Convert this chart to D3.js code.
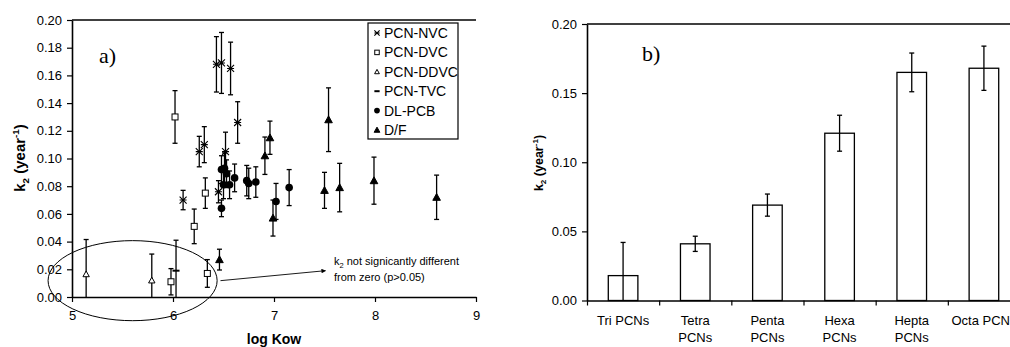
<!DOCTYPE html>
<html>
<head>
<meta charset="utf-8">
<script src="https://cdn.jsdelivr.net/npm/d3@7"></script>
<style>
  body { margin:0; background:#fff; overflow:hidden; }
  svg { display:block; font-family: Arial, "Liberation Sans", sans-serif; }
</style>
</head>
<body>
<svg id="chart" width="1010" height="347"></svg>
<script>
// ---- panel a) data : log Kow, k2, error
var nvcX = [6.10, 6.26, 6.31, 6.43, 6.45, 6.48, 6.52, 6.57, 6.64]
var nvcY = [0.070, 0.105, 0.110, 0.168, 0.076, 0.169, 0.105, 0.165, 0.126]
var nvcE = [0.007, 0.011, 0.013, 0.020, 0.008, 0.022, 0.014, 0.019, 0.015]

var dvcX = [5.98, 6.02, 6.21, 6.32, 6.34]
var dvcY = [0.011, 0.130, 0.051, 0.075, 0.017]
var dvcE = [0.0095, 0.019, 0.0125, 0.011, 0.010]

var ddvcX = [5.14, 5.79]
var ddvcY = [0.0165, 0.012]
var ddvcE = [0.025, 0.019]

var tvcX = [6.03]
var tvcY = [0.019]
var tvcE = [0.022]

var pcbX = [6.48, 6.51, 6.53, 6.50, 6.56, 6.61, 6.73, 6.75, 6.82, 6.48, 7.02, 7.15]
var pcbY = [0.092, 0.093, 0.089, 0.081, 0.081, 0.086, 0.084, 0.082, 0.083, 0.064, 0.069, 0.079]
var pcbE = [0.010, 0.011, 0.010, 0.010, 0.010, 0.010, 0.011, 0.011, 0.011, 0.006, 0.013, 0.013]

var dfX = [6.46, 6.91, 6.96, 6.99, 7.50, 7.54, 7.65, 7.99, 8.61]
var dfY = [0.027, 0.102, 0.115, 0.057, 0.077, 0.128, 0.079, 0.084, 0.072]
var dfE = [0.0075, 0.0135, 0.012, 0.013, 0.013, 0.023, 0.0175, 0.017, 0.016]

var seriesNames = ["PCN-NVC", "PCN-DVC", "PCN-DDVC", "PCN-TVC", "DL-PCB", "D/F"]
var xTicksA = [5, 6, 7, 8, 9]
var yTicksA = [0, 0.02, 0.04, 0.06, 0.08, 0.10, 0.12, 0.14, 0.16, 0.18, 0.20]

// ---- panel b) data
var groups = ["Tri PCNs", "Tetra PCNs", "Penta PCNs", "Hexa PCNs", "Hepta PCNs", "Octa PCNs"]
var groupLines = [["Tri PCNs"], ["Tetra", "PCNs"], ["Penta", "PCNs"], ["Hexa", "PCNs"], ["Hepta", "PCNs"], ["Octa PCNs"]]
var meanK2 = [0.018, 0.041, 0.069, 0.121, 0.165, 0.168]
var errK2 = [0.024, 0.0055, 0.008, 0.013, 0.014, 0.016]
var yTicksB = [0, 0.05, 0.10, 0.15, 0.20]

var svg = d3.select('#chart')
var fmt = d3.format('.2f')

function zip(xs, ys, es){
  return xs.map(function(x, i){ return {x:x, y:ys[i], e:es[i]} })
}
var series = [
  {name:seriesNames[0], sym:'cross', pts:zip(nvcX, nvcY, nvcE)},
  {name:seriesNames[1], sym:'square', pts:zip(dvcX, dvcY, dvcE)},
  {name:seriesNames[2], sym:'tri', pts:zip(ddvcX, ddvcY, ddvcE)},
  {name:seriesNames[3], sym:'dash', pts:zip(tvcX, tvcY, tvcE)},
  {name:seriesNames[4], sym:'circle', pts:zip(pcbX, pcbY, pcbE)},
  {name:seriesNames[5], sym:'ftri', pts:zip(dfX, dfY, dfE)}
]

function drawSymbol(g, sym, cx, cy, s){
  s = s || 1
  if (sym == 'cross'){
    var r = 3.5*s
    g.append('path').attr('d','M'+(cx-r)+','+(cy-r)+'L'+(cx+r)+','+(cy+r)+'M'+(cx-r)+','+(cy+r)+'L'+(cx+r)+','+(cy-r)+'M'+(cx-r)+','+cy+'L'+(cx+r)+','+cy)
      .attr('stroke','#000').attr('stroke-width',1.1).attr('fill','none')
  } else if (sym == 'square'){
    var h = 3*s
    g.append('rect').attr('x',cx-h).attr('y',cy-h).attr('width',2*h).attr('height',2*h)
      .attr('fill','#fff').attr('stroke','#000').attr('stroke-width',1)
  } else if (sym == 'tri' || sym == 'ftri'){
    var t = (sym == 'tri' ? 3.2 : 3.8)*s
    g.append('path').attr('d','M'+cx+','+(cy-t)+'L'+(cx+t)+','+(cy+t*0.8)+'L'+(cx-t)+','+(cy+t*0.8)+'Z')
      .attr('fill', sym == 'tri' ? '#fff' : '#000').attr('stroke','#000').attr('stroke-width',1)
  } else if (sym == 'dash'){
    var w = 3.5*s
    g.append('line').attr('x1',cx-w).attr('x2',cx+w).attr('y1',cy).attr('y2',cy)
      .attr('stroke','#000').attr('stroke-width',2)
  } else if (sym == 'circle'){
    g.append('circle').attr('cx',cx).attr('cy',cy).attr('r',3.8*s).attr('fill','#000')
  }
}

function yLabel(g, x, y, size){
  var t = g.append('text').attr('transform','translate('+x+','+y+') rotate(-90)')
    .attr('text-anchor','middle').attr('font-weight','bold').attr('font-size',size)
  t.append('tspan').text('k')
  t.append('tspan').attr('font-size',size*0.65).attr('dy',size*0.25).text('2')
  t.append('tspan').attr('dy',-size*0.25).text(' (year')
  t.append('tspan').attr('font-size',size*0.65).attr('dy',-size*0.4).text('-1')
  t.append('tspan').attr('dy',size*0.4).text(')')
}

function styleAxis(g){
  g.select('.domain').attr('stroke','#000').attr('stroke-width',1.6)
  g.selectAll('.tick line').attr('stroke','#000').attr('stroke-width',1.2)
  g.selectAll('.tick text').attr('fill','#000').attr('font-size',13)
    .attr('font-family','Arial, "Liberation Sans", sans-serif')
}

// ================= panel a =================
var xA = d3.scaleLinear().domain([5, 9]).range([72, 476])
var yA = d3.scaleLinear().domain([0, 0.2]).range([297, 20])
var gA = svg.append('g')

gA.append('line').attr('x1',xA(5)).attr('x2',xA(9)).attr('y1',yA(0.2)).attr('y2',yA(0.2))
  .attr('stroke','#000').attr('stroke-width',1.4)

var axYA = gA.append('g').attr('transform','translate('+xA(5)+',0)')
  .call(d3.axisLeft(yA).tickValues(yTicksA).tickFormat(fmt).tickSize(5).tickPadding(5).tickSizeOuter(0))
styleAxis(axYA)
var axXA = gA.append('g').attr('transform','translate(0,'+yA(0)+')')
  .call(d3.axisBottom(xA).tickValues(xTicksA).tickFormat(d3.format('d')).tickSize(5).tickPadding(9).tickSizeOuter(0))
styleAxis(axXA)

yLabel(gA, 25, 158, 15)
gA.append('text').attr('x',274).attr('y',344).attr('text-anchor','middle')
  .attr('font-weight','bold').attr('font-size',14).text('log Kow')
gA.append('text').attr('x',99).attr('y',63).attr('font-family','"Liberation Serif", "Times New Roman", serif')
  .attr('font-size',22).text('a)')

// error bars then markers
series.forEach(function(s){
  s.pts.forEach(function(p){
    var cx = xA(p.x)
    var top = yA(p.y + p.e)
    var lowV = p.y - p.e
    var bot = yA(Math.max(0, lowV))
    gA.append('line').attr('x1',cx).attr('x2',cx).attr('y1',top).attr('y2',bot)
      .attr('stroke','#000').attr('stroke-width',1.3)
    gA.append('line').attr('x1',cx-2.5).attr('x2',cx+2.5).attr('y1',top).attr('y2',top)
      .attr('stroke','#000').attr('stroke-width',1.3)
    if (lowV > 0){
      gA.append('line').attr('x1',cx-2.5).attr('x2',cx+2.5).attr('y1',bot).attr('y2',bot)
        .attr('stroke','#000').attr('stroke-width',1.3)
    }
  })
})
series.forEach(function(s){
  s.pts.forEach(function(p){ drawSymbol(gA, s.sym, xA(p.x), yA(p.y)) })
})

// ellipse + arrow annotation
var ell = {x:5.60, y:0.0118, rx:0.837, ry:0.0289}
gA.append('ellipse').attr('cx',xA(ell.x)).attr('cy',yA(ell.y))
  .attr('rx',xA(5 + ell.rx) - xA(5)).attr('ry',yA(0) - yA(ell.ry))
  .attr('fill','none').attr('stroke','#000').attr('stroke-width',1)

svg.append('defs').append('marker').attr('id','arr').attr('viewBox','0 0 10 10')
  .attr('refX',9).attr('refY',5).attr('markerWidth',7).attr('markerHeight',5).attr('orient','auto')
  .append('path').attr('d','M0,0L10,5L0,10Z').attr('fill','#000')
gA.append('line').attr('x1',xA(6.47)).attr('y1',yA(0.0118)).attr('x2',xA(7.51)).attr('y2',yA(0.019))
  .attr('stroke','#000').attr('stroke-width',0.9).attr('marker-end','url(#arr)')

var note = gA.append('text').attr('font-size',11).attr('fill','#000')
var l1 = note.append('tspan').attr('x',334).attr('y',265)
l1.append('tspan').text('k')
l1.append('tspan').attr('font-size',7.5).attr('dy',2.5).text('2')
l1.append('tspan').attr('dy',-2.5).text(' not signicantly different')
note.append('tspan').attr('x',334).attr('y',281).text('from zero (p>0.05)')

// legend
var leg = gA.append('g')
leg.append('rect').attr('x',368).attr('y',23).attr('width',90).attr('height',116)
  .attr('fill','#fff').attr('stroke','#000').attr('stroke-width',1.2)
series.forEach(function(s, i){
  var ly = 33 + i*19.4
  drawSymbol(leg, s.sym, 377, ly, 0.75)
  leg.append('text').attr('x',384).attr('y',ly+5).attr('font-size',14).text(s.name)
})

// ================= panel b =================
var xB = d3.scaleBand().domain(groups).range([587, 1020]).paddingInner(0.59).paddingOuter(0.295)
var xEdge = d3.scaleLinear().domain([0, groups.length]).range([587, 1020])
var yB = d3.scaleLinear().domain([0, 0.2]).range([300.5, 24])
var gB = svg.append('g')

gB.append('line').attr('x1',587).attr('x2',1020).attr('y1',yB(0.2)).attr('y2',yB(0.2))
  .attr('stroke','#000').attr('stroke-width',1.4)

gB.selectAll('rect.bar').data(groups).enter().append('rect').attr('class','bar')
  .attr('x',function(d){ return xB(d) })
  .attr('y',function(d, i){ return yB(meanK2[i]) })
  .attr('width',xB.bandwidth())
  .attr('height',function(d, i){ return yB(0) - yB(meanK2[i]) })
  .attr('fill','#fff').attr('stroke','#000').attr('stroke-width',1.3)

groups.forEach(function(d, i){
  var cx = xB(d) + xB.bandwidth()/2
  var lowV = meanK2[i] - errK2[i]
  var top = yB(meanK2[i] + errK2[i]), bot = yB(Math.max(0, lowV))
  gB.append('line').attr('x1',cx).attr('x2',cx).attr('y1',top).attr('y2',bot)
    .attr('stroke','#000').attr('stroke-width',1.3)
  gB.append('line').attr('x1',cx-2.5).attr('x2',cx+2.5).attr('y1',top).attr('y2',top)
    .attr('stroke','#000').attr('stroke-width',1.3)
  if (lowV > 0){
    gB.append('line').attr('x1',cx-2.5).attr('x2',cx+2.5).attr('y1',bot).attr('y2',bot)
      .attr('stroke','#000').attr('stroke-width',1.3)
  }
})

var axYB = gB.append('g').attr('transform','translate(587,0)')
  .call(d3.axisLeft(yB).tickValues(yTicksB).tickFormat(fmt).tickSize(5).tickPadding(5).tickSizeOuter(0))
styleAxis(axYB)
var axXB = gB.append('g').attr('transform','translate(0,'+yB(0)+')')
  .call(d3.axisBottom(xEdge).tickValues(d3.range(0, groups.length + 1)).tickFormat('').tickSize(5).tickSizeOuter(0))
styleAxis(axXB)

groups.forEach(function(d, i){
  var cx = xB(d) + xB.bandwidth()/2
  var t = gB.append('text').attr('text-anchor','middle').attr('font-size',13)
  groupLines[i].forEach(function(line, j){
    t.append('tspan').attr('x',cx).attr('y',325 + j*16.5).text(line)
  })
})

yLabel(gB, 543, 163, 12.5)
gB.append('text').attr('x',642).attr('y',61).attr('font-family','"Liberation Serif", "Times New Roman", serif')
  .attr('font-size',22).text('b)')
</script>
</body>
</html>
